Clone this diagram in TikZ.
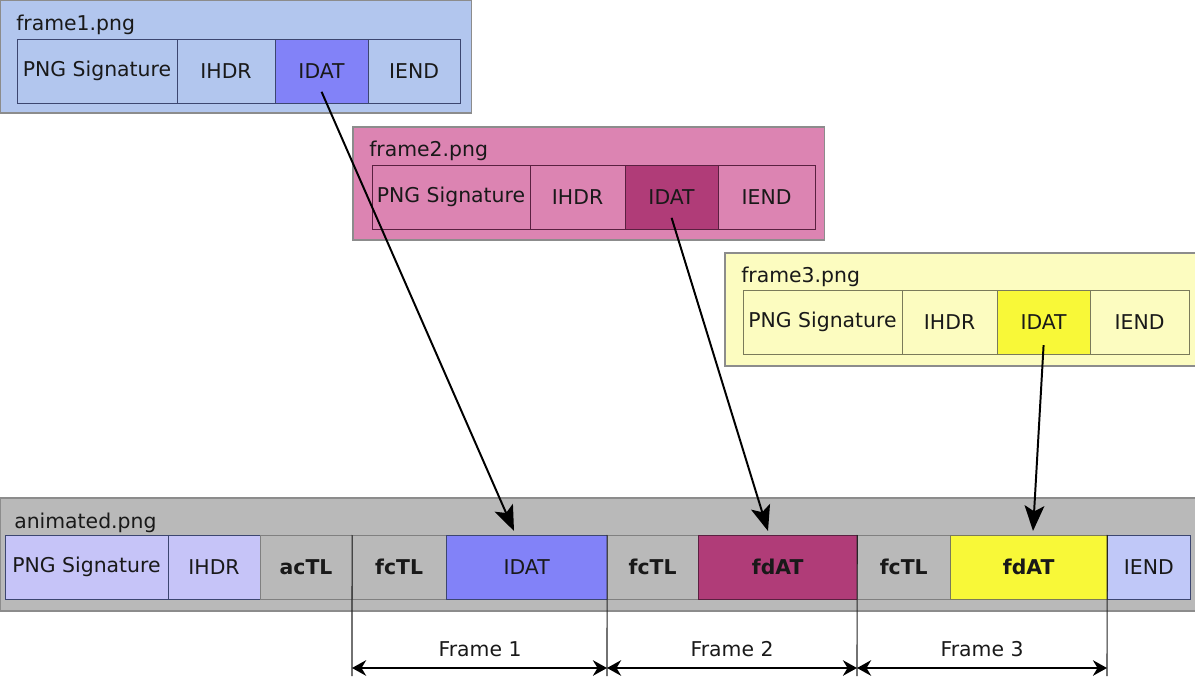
\documentclass[tikz,border=0pt]{standalone}
\usepackage{fontspec}
\setmainfont{DejaVu Sans}
\usepackage{tikz}
\usetikzlibrary{positioning,arrows.meta}

\definecolor{oneback}{HTML}{B2C6EE}
\definecolor{oneline}{HTML}{3C4670}
\definecolor{onedat}{HTML}{8282F8}
\definecolor{twoback}{HTML}{DC84B2}
\definecolor{twoline}{HTML}{5A2040}
\definecolor{twodat}{HTML}{B03C78}
\definecolor{threeback}{HTML}{FCFCC0}
\definecolor{threeline}{HTML}{7A7A5A}
\definecolor{threedat}{HTML}{F8F838}
\definecolor{animback}{HTML}{B9B9B9}
\definecolor{lavender}{HTML}{C6C4F8}
\definecolor{endblue}{HTML}{C0C8F8}

\begin{document}
\begin{tikzpicture}[x=0.025cm,y=-0.025cm,
  pngbox/.style={draw=black!45, line width=0.8pt, anchor=north west, inner sep=0pt, outer sep=0pt},
  title/.style={anchor=base west, inner sep=0pt, text=black!90, font=\fontsize{14.5}{16}\selectfont},
  cell/.style={draw, line width=0.7pt, inner sep=0pt, outer sep=0pt, minimum height=1.6cm, text=black!90, font=\fontsize{14.5}{16}\selectfont},
  wd/.style={minimum width=#1cm},
  copy/.style={line width=1.4pt, -{Stealth[length=18pt,width=14pt,inset=4pt]}},
  dim/.style={line width=1.8pt, {Stealth[length=10pt,width=11pt]}-{Stealth[length=10pt,width=11pt]}},
  ext/.style={line width=0.8pt, black!85}]
\useasboundingbox (0,0) rectangle (1195,697);

% frame1.png
\node[pngbox, fill=oneback, minimum width=11.775cm, minimum height=2.825cm] (f1) at (0,0) {};
\node[title] (f1name) at (16,30) {frame1.png};
\node[cell, draw=oneline, fill=oneback, wd=4, anchor=west] (f1sig) at (17,71) {PNG Signature};
\node[cell, draw=oneline, fill=oneback, wd=2.45, right=0pt of f1sig] (f1ihdr) {IHDR};
\node[cell, draw=oneline, fill=onedat, wd=2.325, right=0pt of f1ihdr] (f1idat) {IDAT};
\node[cell, draw=oneline, fill=oneback, wd=2.3, right=0pt of f1idat] (f1iend) {IEND};

% frame2.png
\node[pngbox, fill=twoback, minimum width=11.775cm, minimum height=2.825cm] (f2) at (353,127) {};
\node[title] (f2name) at (369,156) {frame2.png};
\node[cell, draw=twoline, fill=twoback, wd=3.95, anchor=west] (f2sig) at (372,197) {PNG Signature};
\node[cell, draw=twoline, fill=twoback, wd=2.375, right=0pt of f2sig] (f2ihdr) {IHDR};
\node[cell, draw=twoline, fill=twodat, wd=2.325, right=0pt of f2ihdr] (f2idat) {IDAT};
\node[cell, draw=twoline, fill=twoback, wd=2.425, right=0pt of f2idat] (f2iend) {IEND};

% frame3.png
\node[pngbox, fill=threeback, minimum width=11.75cm, minimum height=2.825cm] (f3) at (725,253) {};
\node[title] (f3name) at (741,282) {frame3.png};
\node[cell, draw=threeline, fill=threeback, wd=3.975, anchor=west] (f3sig) at (743,322) {PNG Signature};
\node[cell, draw=threeline, fill=threeback, wd=2.375, right=0pt of f3sig] (f3ihdr) {IHDR};
\node[cell, draw=threeline, fill=threedat, wd=2.325, right=0pt of f3ihdr] (f3idat) {IDAT};
\node[cell, draw=threeline, fill=threeback, wd=2.475, right=0pt of f3idat] (f3iend) {IEND};

% animated.png
\node[pngbox, fill=animback, minimum width=29.875cm, minimum height=2.825cm] (an) at (0,498) {};
\node[title] (anname) at (14,528) {animated.png};
\node[cell, draw=oneline, fill=lavender, wd=4.075, anchor=west] (ansig) at (5,567) {PNG Signature};
\node[cell, draw=oneline, fill=lavender, wd=2.3, right=0pt of ansig] (anihdr) {IHDR};
\node[cell, draw=black!50, fill=animback, wd=2.3, right=0pt of anihdr] (anactl) {\textbf{acTL}};
\node[cell, draw=black!50, fill=animback, wd=2.35, right=0pt of anactl] (anfctla) {\textbf{fcTL}};
\node[cell, draw=oneline, fill=onedat, wd=4.025, right=0pt of anfctla] (anidat) {IDAT};
\node[cell, draw=black!50, fill=animback, wd=2.275, right=0pt of anidat] (anfctlb) {\textbf{fcTL}};
\node[cell, draw=twoline, fill=twodat, wd=3.975, right=0pt of anfctlb] (anfdata) {\textbf{fdAT}};
\node[cell, draw=black!50, fill=animback, wd=2.325, right=0pt of anfdata] (anfctlc) {\textbf{fcTL}};
\node[cell, draw=threeline, fill=threedat, wd=3.925, right=0pt of anfctlc] (anfdatb) {\textbf{fdAT}};
\node[cell, draw=oneline, fill=endblue, wd=2.075, right=0pt of anfdatb] (aniend) {IEND};

% where the data goes
\coordinate (t1) at (514,531);
\coordinate (t2) at (768,531);
\coordinate (t3) at (1033,531);
\draw[copy] ([yshift=0.28cm]f1idat.south) -- (t1);
\draw[copy] ([yshift=0.28cm]f2idat.south) -- (t2);
\draw[copy] ([yshift=0.22cm]f3idat.south) -- (t3);

% frame spans
\coordinate (e1) at (352,676);
\coordinate (e2) at (607,676);
\coordinate (e3) at (857,676);
\coordinate (e4) at (1107,676);
\draw[ext] (anfctla.north west) -- (e1);
\draw[ext] (anfctlb.north west) -- (e2);
\draw[ext] (anfctlc.north west) -- (e3);
\draw[ext] (aniend.north west) -- (e4);
\coordinate (d1) at (352,668);
\coordinate (d2) at (607,668);
\coordinate (d3) at (857,668);
\coordinate (d4) at (1107,668);
\draw[dim] (d1) -- (d2);
\draw[dim] (d2) -- (d3);
\draw[dim] (d3) -- (d4);
\node[font=\fontsize{14.5}{16}\selectfont, text=black!90] (fr1) at (480,649) {Frame 1};
\node[font=\fontsize{14.5}{16}\selectfont, text=black!90] (fr2) at (732,649) {Frame 2};
\node[font=\fontsize{14.5}{16}\selectfont, text=black!90] (fr3) at (982,649) {Frame 3};
\end{tikzpicture}
\end{document}
